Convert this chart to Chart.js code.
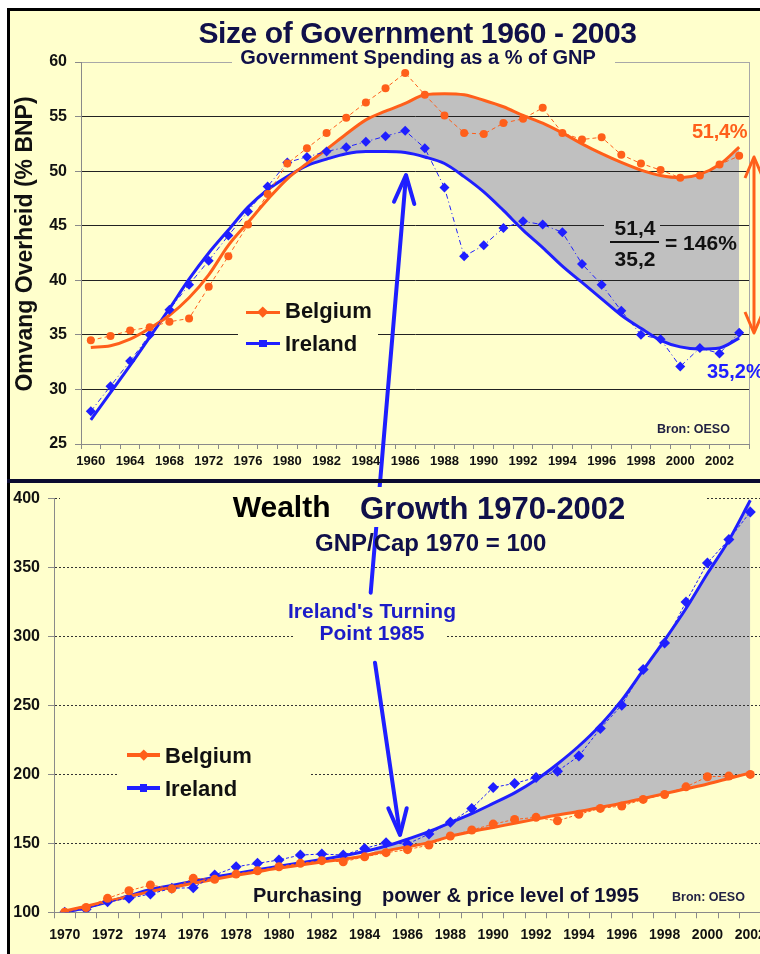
<!DOCTYPE html>
<html>
<head>
<meta charset="utf-8">
<script src="https://cdn.jsdelivr.net/npm/chart.js@4.4.0/dist/chart.umd.min.js"></script>
<style>
html,body{margin:0;padding:0;background:#fff;width:760px;height:954px;overflow:hidden;}
#page{position:relative;width:760px;height:954px;overflow:hidden;font-family:"Liberation Sans",Arial,Helvetica,sans-serif;font-weight:bold;}
.abs{position:absolute;}
.t{position:absolute;white-space:nowrap;line-height:1;z-index:4;}
.c{transform:translateX(-50%);}
.cover{position:absolute;background:#ffffcc;z-index:3;}
canvas{position:absolute;left:0;z-index:1;}
</style>
</head>
<body>
<div id="page">
  <div class="abs" style="left:10px;top:11px;width:750px;height:943px;background:#ffffcc;z-index:0"></div>
  <div class="abs" style="left:7px;top:8px;width:753px;height:3px;background:#000;z-index:5"></div>
  <div class="abs" style="left:7px;top:8px;width:3px;height:946px;background:#000;z-index:5"></div>
  <div class="abs" style="left:7px;top:479px;width:753px;height:4px;background:#0b0b30;z-index:5"></div>

  <canvas id="gov" width="760" height="479" style="top:0;width:760px;height:479px"></canvas>
  <canvas id="wealth" width="770" height="471" style="top:483px;width:770px;height:471px"></canvas>

  <svg class="abs" width="760" height="954" style="left:0;top:0;z-index:2">
    <g stroke="#1f1fff" stroke-width="4" fill="none" stroke-linecap="round" stroke-linejoin="round">
      <line x1="370.7" y1="592.7" x2="406" y2="176"/>
      <polyline points="394,201.7 406,175 414.3,204"/>
      <line x1="375" y1="662.7" x2="400" y2="834"/>
      <polyline points="388.3,808.3 400,835 406.7,808.3"/>
    </g>
    <g stroke="#ff5f1a" stroke-width="3" fill="none" stroke-linejoin="round">
      <line x1="754" y1="158" x2="754" y2="332"/>
      <polyline points="745,178 754,157 763,178"/>
      <polyline points="745,312 754,333 763,312"/>
    </g>
  </svg>

  <!-- covers -->
  <div class="cover" style="left:232px;top:47px;width:383px;height:21px"></div>
  <div class="cover" style="left:238px;top:296px;width:140px;height:62px"></div>
  <div class="cover" style="left:60px;top:487px;width:647px;height:40px"></div>
  <div class="cover" style="left:295px;top:598px;width:152px;height:47px"></div>
  <div class="cover" style="left:118px;top:740px;width:192px;height:62px"></div>
  <div class="cover" style="left:604px;top:222px;width:56px;height:7px;background:#c0c0c0"></div>

  <!-- top chart texts -->
  <div class="t c" style="left:417.5px;top:17.6px;font-size:30px;color:#10104a;letter-spacing:-0.4px">Size of Government 1960 - 2003</div>
  <div class="t c" style="left:418px;top:47.1px;font-size:20px;color:#10104a">Government Spending as a % of GNP</div>
  <div class="t" style="left:24px;top:243.5px;font-size:23px;color:#111;transform:translate(-50%,-50%) rotate(-90deg)">Omvang Overheid (% BNP)</div>
  <div class="t" style="left:657px;top:423.4px;font-size:12.5px;color:#222244">Bron: OESO</div>
  <div class="t" style="left:692px;top:121.4px;font-size:20px;color:#ff5f1a;letter-spacing:-0.3px">51,4%</div>
  <div class="t" style="left:707px;top:361.1px;font-size:20px;color:#1f1fff">35,2%</div>
  <div class="t c" style="left:635px;top:217.2px;font-size:21px;color:#111">51,4</div>
  <div class="abs" style="left:610px;top:240.5px;width:49px;height:2.5px;background:#111;z-index:4"></div>
  <div class="t c" style="left:635px;top:248.2px;font-size:21px;color:#111">35,2</div>
  <div class="t" style="left:665px;top:232.2px;font-size:21px;color:#111">= 146%</div>

  <div class="abs" style="left:246px;top:310.5px;width:34px;height:3.5px;background:#ff5f1a;z-index:4"></div>
  <div class="abs" style="left:258.5px;top:308px;width:7.5px;height:7.5px;background:#ff5f1a;transform:rotate(45deg);z-index:4"></div>
  <div class="abs" style="left:246px;top:341.5px;width:34px;height:3.5px;background:#1f1fff;z-index:4"></div>
  <div class="abs" style="left:259px;top:339.5px;width:7.5px;height:7.5px;background:#1f1fff;z-index:4"></div>
  <div class="t" style="left:285px;top:299.7px;font-size:22px;color:#111">Belgium</div>
  <div class="t" style="left:285px;top:333.1px;font-size:22px;color:#111">Ireland</div>

  <!-- bottom chart texts -->
  <div class="t" style="left:232.7px;top:491.6px;font-size:30px;color:#000">Wealth</div>
  <div class="t" style="left:360px;top:492.8px;font-size:31px;color:#10104a">Growth 1970-2002</div>
  <div class="t" style="left:315px;top:530.7px;font-size:24px;color:#10104a">GNP/Cap 1970 = 100</div>
  <div class="t c" style="left:372px;top:599.5px;font-size:21px;color:#1c1cc8">Ireland's Turning</div>
  <div class="t c" style="left:372px;top:622.2px;font-size:21px;color:#1c1cc8">Point 1985</div>
  <div class="t" style="left:253px;top:884.8px;font-size:20px;color:#111122">Purchasing</div>
  <div class="t" style="left:382px;top:884.8px;font-size:20px;color:#111133">power &amp; price level of 1995</div>
  <div class="t" style="left:672px;top:891.1px;font-size:12.5px;color:#222244">Bron: OESO</div>

  <div class="abs" style="left:127px;top:753.3px;width:33px;height:3.5px;background:#ff5f1a;z-index:4"></div>
  <div class="abs" style="left:139.7px;top:751.3px;width:7.5px;height:7.5px;background:#ff5f1a;transform:rotate(45deg);z-index:4"></div>
  <div class="abs" style="left:127px;top:786.3px;width:33px;height:3.5px;background:#1f1fff;z-index:4"></div>
  <div class="abs" style="left:139.7px;top:784.3px;width:7.5px;height:7.5px;background:#1f1fff;z-index:4"></div>
  <div class="t" style="left:165px;top:744.7px;font-size:22px;color:#111">Belgium</div>
  <div class="t" style="left:165px;top:778.1px;font-size:22px;color:#111">Ireland</div>
</div>

<script>
// ---------- DATA: Size of Government (% of GNP) ----------
const govYears = ['1960','1962','1964','1966','1968','1970','1972','1974','1976','1978',
  '1980','1981','1982','1983','1984','1985','1986','1987','1988','1989','1990','1991',
  '1992','1993','1994','1995','1996','1997','1998','1999','2000','2001','2002','2003'];
const govBelgium = [34.5, 34.9, 35.4, 35.7, 36.2, 36.5, 39.4, 42.2, 45.1, 47.9,
  50.7, 52.1, 53.5, 54.9, 56.3, 57.6, 59.0, 57.0, 55.1, 53.5, 53.4, 54.4,
  54.8, 55.8, 53.5, 52.9, 53.1, 51.5, 50.7, 50.1, 49.4, 49.6, 50.6, 51.4];
const govIreland = [28.0, 30.3, 32.6, 35.0, 37.3, 39.6, 41.8, 44.1, 46.3, 48.6,
  50.8, 51.3, 51.8, 52.2, 52.7, 53.2, 53.7, 52.1, 48.5, 42.2, 43.2, 44.8,
  45.4, 45.1, 44.4, 41.5, 39.6, 37.2, 35.0, 34.6, 32.1, 33.8, 33.3, 35.2];
const govTrendBelgium = [33.85, 34.0, 34.6, 35.6, 36.8, 38.4, 40.5, 43.2, 45.3, 47.4,
  49.3, 50.7, 52.0, 53.4, 54.7, 55.5, 56.2, 57.0, 57.1, 57.0, 56.5, 55.9,
  55.1, 54.4, 53.5, 52.5, 51.6, 50.8, 50.1, 49.6, 49.4, 49.7, 50.6, 52.2];
const govTrendIreland = [27.2, 29.7, 32.2, 34.8, 37.4, 40.1, 42.5, 44.6, 46.7, 48.3,
  49.5, 50.5, 51.1, 51.6, 51.8, 51.8, 51.7, 51.3, 50.7, 49.5, 48.1, 46.4,
  44.6, 43.0, 41.3, 39.8, 38.3, 36.8, 35.6, 34.5, 33.9, 33.7, 33.8, 34.7];
const govGapStart = 11;   // first category of the shaded gap (after the 1980 crossing)
const govTicks = {min: 25, max: 60, step: 5};

// ---------- DATA: Wealth Growth (GNP/Cap, 1970 = 100) ----------
const wealthYears = ['1970','1971','1972','1973','1974','1975','1976','1977','1978','1979',
  '1980','1981','1982','1983','1984','1985','1986','1987','1988','1989','1990','1991',
  '1992','1993','1994','1995','1996','1997','1998','1999','2000','2001','2002'];
const wealthBelgium = [100, 103.5, 110.1, 115.6, 119.8, 117, 124.6, 123.9, 127.7, 130.1,
  133.0, 135.5, 137.4, 136.6, 140.2, 143.2, 145.4, 148.7, 155.3, 159.6, 163.9, 167.3,
  168.8, 166.3, 171.0, 175.3, 177.0, 181.8, 185.4, 190.9, 198.2, 198.7, 199.9];
const wealthIreland = [100, 102.2, 107.7, 110.1, 113.3, 117.4, 117.8, 127.0, 133.0, 135.5,
  137.9, 141.5, 142.2, 141.5, 146.3, 150.4, 149.5, 156.7, 165.2, 175.3, 190.5, 193.4,
  197.7, 202.3, 213.2, 233.2, 250.1, 276.0, 295.2, 324.9, 353.2, 370.1, 390.1];
const wealthTrendBelgium = [101, 104.5, 108, 111.5, 115, 118, 121, 124, 126.8, 129.4,
  132, 134.3, 136.4, 138.5, 141, 144.5, 147.5, 150.5, 155, 158.5, 161.5, 164.5,
  167.5, 170.5, 173, 176, 179, 182.5, 186, 189.5, 193, 197, 201];
const wealthTrendIreland = [100, 103.5, 107.5, 112, 116.5, 119.5, 122.5, 125.5, 128.2, 130.8,
  133.3, 135.8, 138.3, 141, 144, 148, 153, 158.4, 164.9, 171.5, 178.9, 186.5,
  196, 207.5, 220.5, 235.6, 253.7, 275.5, 297.2, 320.1, 345.5, 369.6, 398.6];
const wealthGapStart = 15;
const wealthTicks = {min: 100, max: 400, step: 50};

// ---------- STYLE ----------
const ORANGE = '#ff5f1a', BLUE = '#1f1fff', FILL = '#c0c0c0', GRAY = '#8a8a8a';
Chart.defaults.font.family = '"Liberation Sans", Arial, Helvetica, sans-serif';
Chart.defaults.font.weight = 'bold';
Chart.defaults.color = '#111';

// upper edge of the shaded gap: equals the lower curve before `from`, the upper curve afterwards
function gapEdge(upper, lower, from) { return upper.map((v, i) => i >= from ? v : lower[i]); }
function everyOther(v, i) { return i % 2 === 0 ? this.getLabelForValue(v) : ''; }

const frame = {
  id: 'frame',
  afterDraw(chart, args, opts) {
    if (!opts || !opts.right) return;
    const {ctx, chartArea: a} = chart;
    ctx.save();
    ctx.strokeStyle = opts.color;
    ctx.lineWidth = 1;
    ctx.beginPath();
    ctx.moveTo(Math.round(a.right) + 0.5, a.top);
    ctx.lineTo(Math.round(a.right) + 0.5, a.bottom);
    ctx.stroke();
    ctx.restore();
  }
};

function trend(data, color) {
  return {data, borderColor: color, backgroundColor: color, borderWidth: 3, pointRadius: 0, fill: false,
    tension: 0.4, cubicInterpolationMode: 'monotone', order: 2};
}
function points(data, color, style, r, dash) {
  return {data, borderColor: color, backgroundColor: color, borderWidth: 1, borderDash: dash, pointStyle: style,
    pointRadius: r, pointBackgroundColor: color, pointBorderColor: color, pointBorderWidth: 0,
    tension: 0, fill: false, order: 1};
}
// order 0: processed last by the filler, so the target curve's control points are ready
function gap(data, target) {
  return {data, borderWidth: 0, borderColor: 'rgba(0,0,0,0)', backgroundColor: FILL, pointRadius: 0,
    tension: 0.4, cubicInterpolationMode: 'monotone', order: 0, fill: target};
}

// ---------- TOP CHART ----------
new Chart(document.getElementById('gov'), {
  type: 'line',
  plugins: [frame],
  data: {
    labels: govYears,
    datasets: [
      gap(gapEdge(govTrendBelgium, govTrendIreland, govGapStart), 2),
      trend(govTrendBelgium, ORANGE),
      trend(govTrendIreland, BLUE),
      points(govBelgium, ORANGE, 'circle', 4, [4, 3]),
      points(govIreland, BLUE, 'rectRot', 5, [5, 3, 1, 3])
    ]
  },
  options: {
    responsive: false, animation: false, events: [],
    layout: {padding: {left: 0, top: 62, right: 11, bottom: 0}},
    plugins: {legend: {display: false}, tooltip: {enabled: false},
      filler: {drawTime: 'beforeDraw', propagate: false}, frame: {right: true, color: '#a8a8a8'}},
    scales: {
      x: {
        type: 'category', offset: true,
        grid: {drawOnChartArea: false, drawTicks: true, tickLength: 5, color: GRAY, offset: true},
        border: {color: GRAY},
        ticks: {autoSkip: false, maxRotation: 0, minRotation: 0, padding: 5,
          font: {size: 13, weight: 'bold'}, color: '#111', callback: everyOther},
        afterFit(s) { s.height = 35; s.paddingLeft = 0; s.paddingRight = 0; }
      },
      y: {
        min: govTicks.min, max: govTicks.max,
        ticks: {stepSize: govTicks.step, padding: 8, font: {size: 16, weight: 'bold'}, color: '#111'},
        grid: {
          color: c => (c.tick && c.tick.value === govTicks.max) ? '#a8a8a8' :
                      (c.tick && c.tick.value === govTicks.min) ? GRAY : '#222',
          tickColor: GRAY, tickLength: 6
        },
        border: {color: GRAY},
        afterFit(s) { s.width = 81; s.paddingTop = 0; s.paddingBottom = 0; }
      }
    }
  }
});

// ---------- BOTTOM CHART ----------
new Chart(document.getElementById('wealth'), {
  type: 'line',
  data: {
    labels: wealthYears,
    datasets: [
      gap(gapEdge(wealthTrendIreland, wealthTrendBelgium, wealthGapStart), 1),
      trend(wealthTrendBelgium, ORANGE),
      trend(wealthTrendIreland, BLUE),
      points(wealthBelgium, ORANGE, 'circle', 4.5, [3, 2]),
      points(wealthIreland, BLUE, 'rectRot', 5.5, [3, 2])
    ]
  },
  options: {
    responsive: false, animation: false, events: [],
    layout: {padding: {left: 0, top: 15.3, right: 9, bottom: 0}},
    plugins: {legend: {display: false}, tooltip: {enabled: false},
      filler: {drawTime: 'beforeDraw', propagate: false}},
    scales: {
      x: {
        type: 'category', offset: true,
        grid: {drawOnChartArea: false, drawTicks: true, tickLength: 6, color: GRAY, offset: true},
        border: {color: GRAY},
        ticks: {autoSkip: false, maxRotation: 0, minRotation: 0, padding: 8,
          font: {size: 14, weight: 'bold'}, color: '#111', callback: everyOther},
        afterFit(s) { s.height = 41.7; s.paddingLeft = 0; s.paddingRight = 0; }
      },
      y: {
        min: wealthTicks.min, max: wealthTicks.max,
        ticks: {stepSize: wealthTicks.step, padding: 8, font: {size: 16, weight: 'bold'}, color: '#111'},
        grid: {
          color: c => (c.tick && c.tick.value === wealthTicks.min) ? 'rgba(0,0,0,0)' : '#333',
          tickColor: GRAY, tickLength: 6
        },
        border: {color: GRAY, dash: [2, 2]},
        afterFit(s) { s.width = 54; s.paddingTop = 0; s.paddingBottom = 0; }
      }
    }
  }
});
</script>
</body>
</html>
